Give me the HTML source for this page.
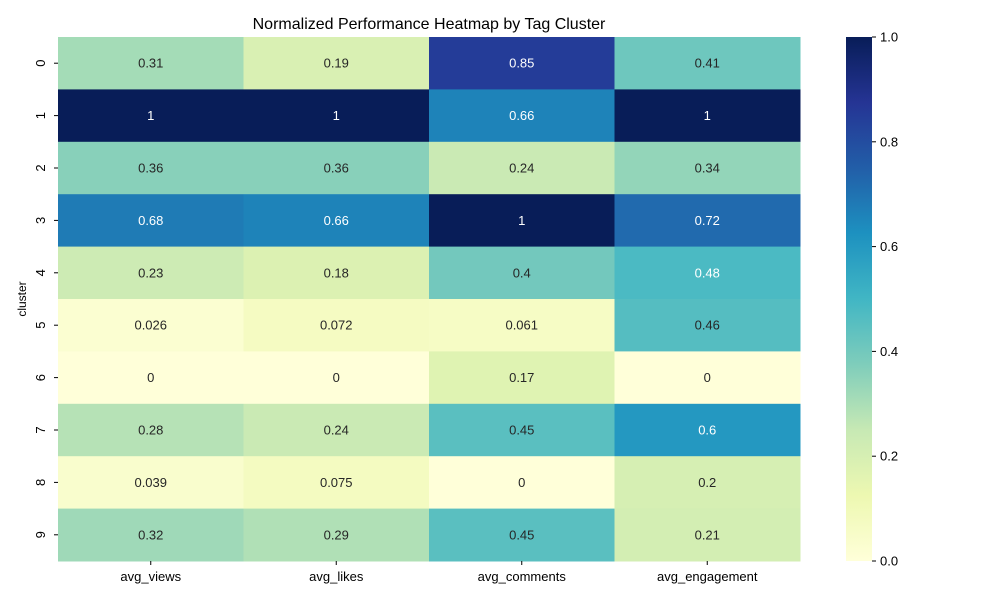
<!DOCTYPE html>
<html><head><meta charset="utf-8"><style>
body{margin:0;background:#fff;font-family:"Liberation Sans","DejaVu Sans",sans-serif;}
</style></head><body>
<svg id="chart" width="1000" height="600" xmlns="http://www.w3.org/2000/svg">
<defs><linearGradient id="cbgrad" x1="0" y1="1" x2="0" y2="0">
<stop offset="0" stop-color="#ffffd9"/><stop offset="0.125" stop-color="#edf8b1"/><stop offset="0.25" stop-color="#c7e9b4"/><stop offset="0.375" stop-color="#7fcdbb"/><stop offset="0.5" stop-color="#41b6c4"/><stop offset="0.625" stop-color="#1d91c0"/><stop offset="0.75" stop-color="#225ea8"/><stop offset="0.875" stop-color="#253494"/><stop offset="1" stop-color="#081d58"/>
</linearGradient></defs>
<text x="429" y="29" text-anchor="middle" font-size="16" fill="#000">Normalized Performance Heatmap by Tag Cluster</text>
<g id="cells"></g>
<text transform="translate(26,299) rotate(-90)" text-anchor="middle" font-size="12">cluster</text>
<rect x="846" y="37" width="26" height="524" fill="url(#cbgrad)"/>
<g id="cbticks"></g>
</svg>
<script>
const categories = ["avg_views","avg_likes","avg_comments","avg_engagement"];
const clusters = ["0","1","2","3","4","5","6","7","8","9"];
const viewsVals = [0.31,1,0.36,0.68,0.23,0.026,0,0.28,0.039,0.32];
const likesVals = [0.19,1,0.36,0.66,0.18,0.072,0,0.24,0.075,0.29];
const commentsVals = [0.85,0.66,0.24,1,0.4,0.061,0.17,0.45,0,0.45];
const engagementVals = [0.41,1,0.34,0.72,0.48,0.46,0,0.6,0.2,0.21];
const cbTicks = ["0.0","0.2","0.4","0.6","0.8","1.0"];

const series=[viewsVals,likesVals,commentsVals,engagementVals];
const X0=58,X1=800,Y0=37,Y1=561;
const cw=(X1-X0)/categories.length, rh=(Y1-Y0)/clusters.length;
const xPos=i=>X0+i*cw, yPos=j=>Y0+j*rh;
const stops=["#ffffd9","#edf8b1","#c7e9b4","#7fcdbb","#41b6c4","#1d91c0","#225ea8","#253494","#081d58"].map(h=>[1,3,5].map(k=>parseInt(h.substr(k,2),16)));
function cmap(v){v=Math.max(0,Math.min(1,v));const t=v*8,i=Math.min(7,Math.floor(t)),f=t-i;return stops[i].map((c,k)=>c+(stops[i+1][k]-c)*f);}
function lum(c){const l=c.map(x=>{x/=255;return x<=0.03928?x/12.92:Math.pow((x+0.055)/1.055,2.4);});return 0.2126*l[0]+0.7152*l[1]+0.0722*l[2];}
const NS="http://www.w3.org/2000/svg";
const g=document.getElementById('cells'), svg=document.getElementById('chart');
function mk(tag,attrs,parent){const e=document.createElementNS(NS,tag);for(const k in attrs)e.setAttribute(k,attrs[k]);parent.appendChild(e);return e;}
series.forEach((vals,i)=>{vals.forEach((v,j)=>{
 const c=cmap(v);
 const r=mk('rect',{x:xPos(i),y:yPos(j),width:cw+0.5,height:rh+0.5,fill:`rgb(${c.map(Math.round).join(',')})`},g);
 
 
 const t=mk('text',{x:xPos(i)+cw/2,y:yPos(j)+rh/2+4.5,'text-anchor':'middle','font-size':13,fill:lum(c)<0.408?'#fff':'#262626'},g);
 t.textContent=String(v);
 
 
});});
categories.forEach((c,i)=>{
 const x=xPos(i)+cw/2;
 const tk=mk('line',{x1:x,x2:x,y1:Y1,y2:Y1+4,stroke:'#000'},svg);
 
 
 const t=mk('text',{x:x,y:Y1+20,'text-anchor':'middle','font-size':13},svg);
 t.textContent=c;
 
 
});
clusters.forEach((c,j)=>{
 const y=yPos(j)+rh/2;
 const tk=mk('line',{x1:X0-4,x2:X0,y1:y,y2:y,stroke:'#000'},svg);
 
 
 const t=mk('text',{transform:`translate(${X0-13},${y}) rotate(-90)`,'text-anchor':'middle','font-size':13},svg);
 t.textContent=c;
 
 
});
const cb=document.getElementById('cbticks');
cbTicks.forEach(s=>{
 const y=Y1-parseFloat(s)*(Y1-Y0);
 const tk=mk('line',{x1:872,x2:876,y1:y,y2:y,stroke:'#000'},cb);
 
 
 const t=mk('text',{x:880,y:y+4.5,'font-size':13},cb);
 t.textContent=s;
 
 
});
</script>
</body></html>
